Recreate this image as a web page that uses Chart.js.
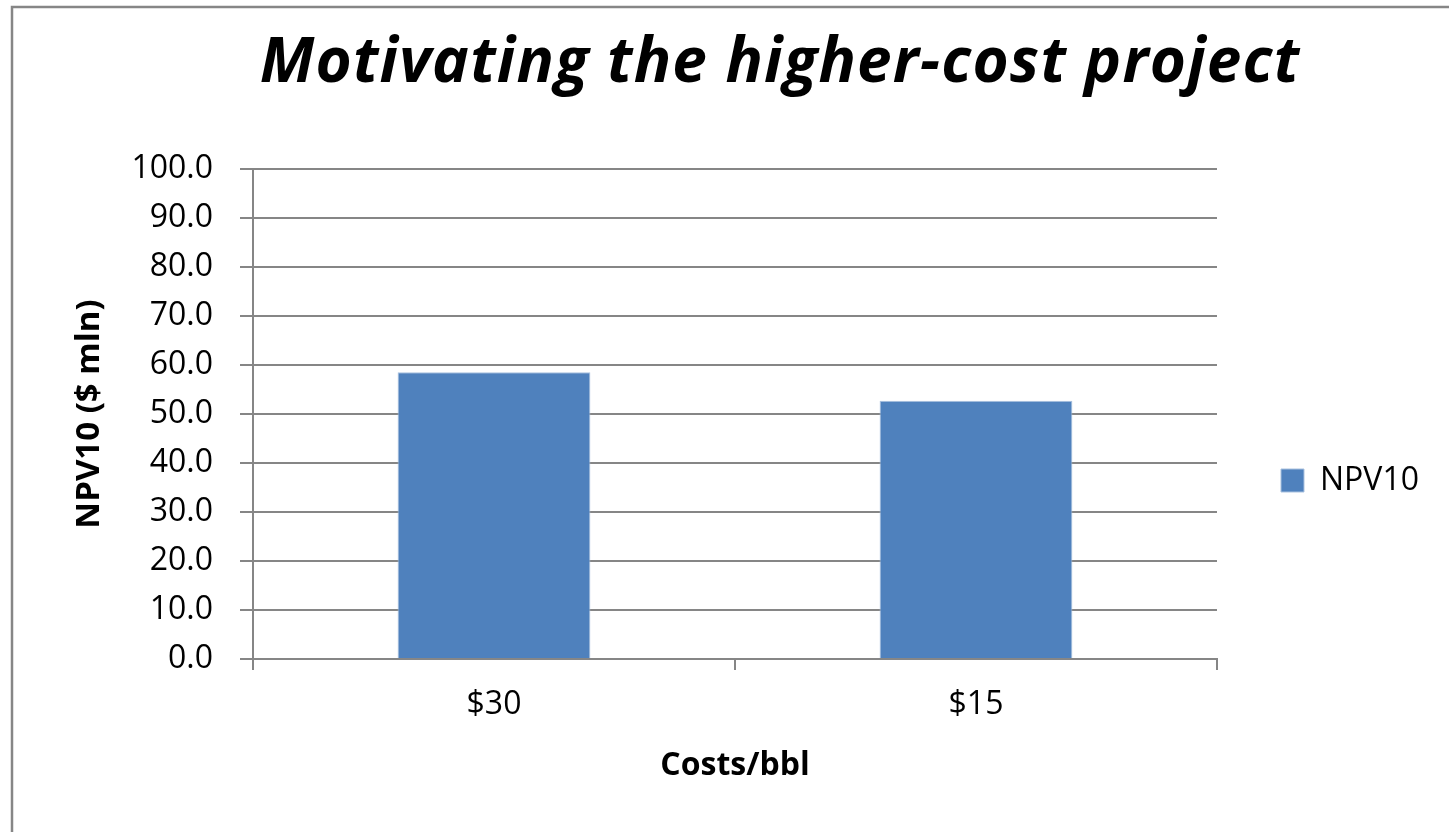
<!DOCTYPE html>
<html>
<head>
<meta charset="utf-8">
<script src="https://cdn.jsdelivr.net/npm/chart.js@4/dist/chart.umd.min.js"></script>
<style>
  html, body { margin: 0; padding: 0; background: #fff; }
  #wrap { position: relative; width: 1449px; height: 832px; }
</style>
</head>
<body>
<div id="wrap"><canvas id="npvChart" width="1449" height="832"></canvas></div>
<script>
// chart data
var chartTitle = 'Motivating the higher-cost project';
var categories = ['$30', '$15'];
var seriesName = 'NPV10';
var npvValues = [58.5, 52.7];
var yTitle = 'NPV10 ($ mln)';
var xTitle = 'Costs/bbl';

var gridGray = '#868686';
var fontName = "'Open Sans', 'DejaVu Sans', sans-serif";

// outer frame + italic title, drawn behind the chart
var framePlugin = {
  id: 'frameTitle',
  beforeDraw: function (chart) {
    var ctx = chart.ctx;
    ctx.save();
    ctx.fillStyle = '#fff';
    ctx.fillRect(0, 0, chart.width, chart.height);
    ctx.strokeStyle = gridGray;
    ctx.lineWidth = 2.5;
    ctx.strokeRect(12, 7, 1600, 900);
    ctx.fillStyle = '#000';
    ctx.font = "italic bold 62px " + fontName;
    ctx.letterSpacing = '1.2px';
    ctx.textAlign = 'center';
    ctx.textBaseline = 'alphabetic';
    ctx.fillText(chartTitle, 780, 82);
    ctx.restore();
  }
};

var ctx = document.getElementById('npvChart').getContext('2d');
var myChart = new Chart(ctx, {
  type: 'bar',
  data: {
    labels: categories,
    datasets: [{
      label: seriesName,
      data: npvValues,
      backgroundColor: '#4f81bd',
      borderColor: '#a9c1df',
      borderWidth: 1,
      barPercentage: 0.4,
      categoryPercentage: 1.0
    }]
  },
  options: {
    responsive: false,
    animation: false,
    devicePixelRatio: 1,
    layout: {
      padding: { left: 60, top: 169, right: 20, bottom: 40 }
    },
    plugins: {
      title: { display: false },
      tooltip: { enabled: false },
      legend: {
        position: 'right',
        labels: {
          boxWidth: 23,
          boxHeight: 23,
          padding: 64,
          color: '#000',
          font: { family: fontName, size: 32 }
        }
      }
    },
    scales: {
      x: {
        offset: true,
        grid: {
          offset: true,
          drawOnChartArea: false,
          drawTicks: true,
          tickLength: 11,
          color: gridGray,
          lineWidth: 2
        },
        border: { color: gridGray, width: 2 },
        ticks: {
          color: '#000',
          padding: 16,
          font: { family: fontName, size: 32 }
        },
        title: {
          display: true,
          text: xTitle,
          color: '#000',
          padding: { top: 10, bottom: 7 },
          font: { family: fontName, size: 32, weight: 'bold' }
        },
        afterFit: function (scale) { scale.height = 832 - 40 - 659; }
      },
      y: {
        min: 0,
        max: 100,
        grid: {
          color: gridGray,
          lineWidth: 2,
          drawTicks: true,
          tickLength: 13
        },
        border: { color: gridGray, width: 2 },
        ticks: {
          stepSize: 10,
          color: '#000',
          padding: 27,
          font: { family: fontName, size: 32 },
          callback: function (v) { return v.toFixed(1); }
        },
        title: {
          display: true,
          text: yTitle,
          color: '#000',
          padding: { top: 10, bottom: 10 },
          font: { family: fontName, size: 33, weight: 'bold' }
        },
        afterFit: function (scale) { scale.width = 253 - 60; }
      }
    }
  },
  plugins: [framePlugin]
});
</script>
</body>
</html>
